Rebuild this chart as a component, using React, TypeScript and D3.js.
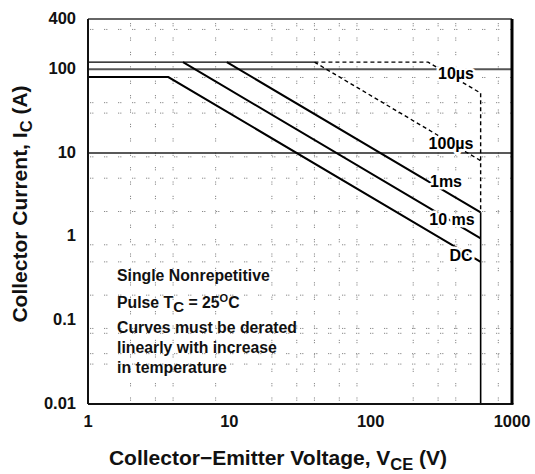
import React from 'react';
import * as d3 from 'd3';

// ---- data ----
const xTicks = [1, 10, 100, 1000];
const xTickLabels = ['1', '10', '100', '1000'];
const yTicks = [0.01, 0.1, 1, 10, 100, 400];
const yTickLabels = ['0.01', '0.1', '1', '10', '100', '400'];

const dotColsV = [2, 3, 4, 8, 20, 30, 40, 60, 80, 200, 300, 400, 800];
const dotRowsI = [0.03, 0.04, 0.07, 0.08, 0.2, 0.5, 0.8, 2, 5, 9, 30, 40, 80, 300];
const solidRowsI = [10, 100];

const commonV = [1, 40];
const commonI = [122, 122];
const dcV = [1, 3.7, 600];
const dcI = [81, 81, 0.5];
const ms10V = [4.7, 600];
const ms10I = [122, 0.955];
const ms1V = [9.6, 600];
const ms1I = [122, 1.95];
const us100V = [40, 600];
const us100I = [122, 8.1];
const us10V = [40, 255, 600];
const us10I = [122, 122, 52];
const limitDashV = [600, 600];
const limitDashI = [52, 1.95];
const limitSolidV = [600, 600];
const limitSolidI = [1.95, 0.01];

const curveLabels = ['10µs', '100µs', '1ms', '10 ms', 'DC'];

// ---- layout ----
const W = 535;
const H = 474;
const L = 88, R = 512, T = 19, B = 404;
const FONT = '"Liberation Sans", Arial, Helvetica, sans-serif';

const x = d3.scaleLog().domain([1, 1000]).range([L, R]);
const y = d3.scaleLog().domain([0.01, 400]).range([B, T]);

const lineGen = d3
  .line<[number, number]>()
  .x((d) => x(d[0]))
  .y((d) => y(d[1]));

const path = (vs: number[], is: number[]) =>
  lineGen(vs.map((v, i) => [v, is[i]] as [number, number])) || '';

const labelPos: [number, number][] = [
  [456, 79],
  [451, 149],
  [446, 187],
  [452, 225],
  [461, 261],
];

export default function App() {
  const halo = {
    stroke: '#fff',
    strokeWidth: 5,
    paintOrder: 'stroke' as const,
    strokeLinejoin: 'round' as const,
  };
  return (
    <svg
      width={W}
      height={H}
      style={{ position: 'absolute', left: 0, top: 0, background: '#fff' }}
      fontFamily={FONT}
    >
      <rect x={0} y={0} width={W} height={H} fill="#fff" />
      {/* dotted minor grid */}
      <g stroke="#888" strokeWidth={1}>
        {dotColsV.map((v) => (
          <line
            key={'c' + v}
            x1={x(v)}
            x2={x(v)}
            y1={T + 4}
            y2={B}
            strokeDasharray="1.2 1 1.2 11"
          />
        ))}
        {dotRowsI.map((v) => (
          <line
            key={'r' + v}
            x1={L + 2}
            x2={R}
            y1={y(v)}
            y2={y(v)}
            strokeDasharray="1.2 1 1.2 10.6"
          />
        ))}
      </g>
      {/* solid grid */}
      {solidRowsI.map((v) => (
        <line
          key={'s' + v}
          x1={L}
          x2={R}
          y1={y(v)}
          y2={y(v)}
          stroke={v === 100 ? '#555' : '#222'}
          strokeWidth={v === 100 ? 2 : 1.4}
        />
      ))}
      {/* curves */}
      <g fill="none" stroke="#000">
        <path d={path(commonV, commonI)} strokeWidth={1.3} />
        <path d={path(dcV, dcI)} strokeWidth={2} />
        <path d={path(ms10V, ms10I)} strokeWidth={2} />
        <path d={path(ms1V, ms1I)} strokeWidth={2} />
        <path d={path(us100V, us100I)} strokeWidth={1.4} strokeDasharray="4 3" />
        <path d={path(us10V, us10I)} strokeWidth={1.4} strokeDasharray="4 3" />
        <path d={path(limitDashV, limitDashI)} strokeWidth={1.4} strokeDasharray="4 3" />
        <path d={path(limitSolidV, limitSolidI)} strokeWidth={1.6} />
      </g>
      {/* curve labels */}
      <g fontSize={16} fontWeight="bold" textAnchor="middle" fill="#000">
        {curveLabels.map((t, i) => (
          <text key={t} x={labelPos[i][0]} y={labelPos[i][1]} {...halo}>
            {t}
          </text>
        ))}
      </g>
      {/* frame */}
      <line x1={L} x2={R} y1={T} y2={T} stroke="#333" strokeWidth={1.6} />
      <line x1={L} x2={L} y1={T} y2={B} stroke="#111" strokeWidth={2} />
      <line x1={L} x2={R + 1.5} y1={B} y2={B} stroke="#111" strokeWidth={2} />
      <line x1={R} x2={R} y1={T} y2={B} stroke="#000" strokeWidth={3} />
      {/* tick labels */}
      <g fontSize={16.5} fontWeight="bold" fill="#111">
        {yTicks.map((v, i) => (
          <text key={'yt' + v} x={76} y={y(v) + 4.5} textAnchor="end">
            {yTickLabels[i]}
          </text>
        ))}
        {xTicks.map((v, i) => (
          <text key={'xt' + v} x={x(v)} y={427} textAnchor="middle">
            {xTickLabels[i]}
          </text>
        ))}
      </g>
      {/* annotation */}
      <g fontSize={15.8} fontWeight="bold" fill="#111">
        <text x={117} y={281}>Single Nonrepetitive</text>
        <text x={117} y={308}>
          Pulse T
          <tspan fontSize={15} dy={4}>C</tspan>
          <tspan dy={-4}> = 25</tspan>
          <tspan fontSize={11} dy={-6}>O</tspan>
          <tspan dy={6}>C</tspan>
        </text>
        <text x={117} y={333}>Curves must be derated</text>
        <text x={117} y={353}>linearly with increase</text>
        <text x={117} y={373}>in temperature</text>
      </g>
      {/* axis titles */}
      <text x={278} y={465} textAnchor="middle" fontSize={21} fontWeight="bold" fill="#111">
        Collector−Emitter Voltage, V
        <tspan fontSize={16.5} dy={5}>CE</tspan>
        <tspan dy={-5}> (V)</tspan>
      </text>
      <text
        transform="translate(27,204) rotate(-90)"
        textAnchor="middle"
        fontSize={21}
        fontWeight="bold"
        fill="#111"
      >
        Collector Current, I
        <tspan fontSize={16.5} dy={5}>C</tspan>
        <tspan dy={-5}> (A)</tspan>
      </text>
    </svg>
  );
}
